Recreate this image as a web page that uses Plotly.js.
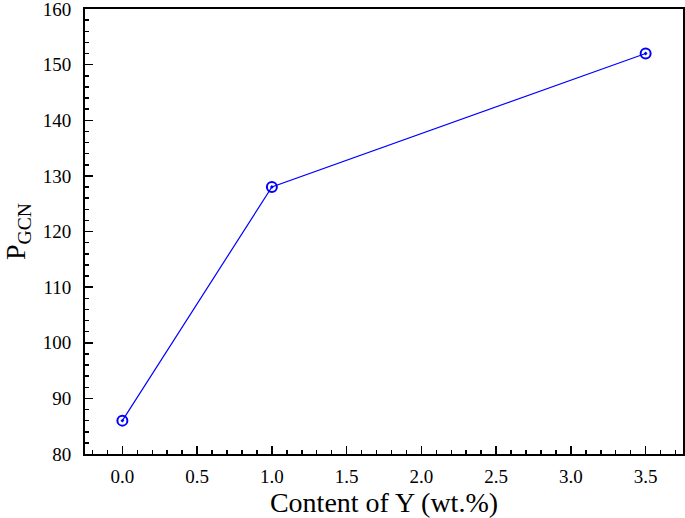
<!DOCTYPE html>
<html>
<head>
<meta charset="utf-8">
<script src="https://cdn.plot.ly/plotly-3.0.1.min.js"></script>
<style>html,body{margin:0;padding:0;background:#fff;}#chart{width:685px;height:518px;}</style>
</head>
<body>
<div id="chart"></div>
<script>
const yContent = [0.0, 1.0, 3.5];
const pGCN = [86, 128, 152];
const xTickVals = [0, 0.5, 1, 1.5, 2, 2.5, 3, 3.5];
const xTickText = ["0.0", "0.5", "1.0", "1.5", "2.0", "2.5", "3.0", "3.5"];
const xMinorVals = [-0.2, -0.1, 0.1, 0.2, 0.3, 0.4, 0.6, 0.7, 0.8, 0.9, 1.1, 1.2, 1.3, 1.4, 1.6, 1.7, 1.8, 1.9,
                    2.1, 2.2, 2.3, 2.4, 2.6, 2.7, 2.8, 2.9, 3.1, 3.2, 3.3, 3.4, 3.6, 3.7];
const yTickVals = [80, 90, 100, 110, 120, 130, 140, 150, 160];
const yTickText = ["80", "90", "100", "110", "120", "130", "140", "150", "160"];

const font = "Liberation Serif";

const trace = {
  x: yContent,
  y: pGCN,
  type: "scatter",
  mode: "lines+markers",
  line: {color: "#0000ff", width: 1.2},
  marker: {symbol: "circle-open-dot", size: 10, color: "#0000ff", line: {width: 2, color: "#0000ff"}},
  showlegend: false
};

const layout = {
  width: 685,
  height: 518,
  margin: {l: 85, r: 2, t: 9, b: 64},
  paper_bgcolor: "#fff",
  plot_bgcolor: "#fff",
  font: {family: font, color: "#000", size: 19},
  xaxis: {
    range: [-0.25, 3.75],
    tickmode: "array",
    tickvals: xTickVals,
    ticktext: xTickText,
    ticks: "inside",
    ticklen: 8,
    tickwidth: 1.5,
    tickcolor: "#000",
    minor: {tickvals: xMinorVals, ticks: "inside", ticklen: 4, tickwidth: 1.5, tickcolor: "#000"},
    showline: true,
    linecolor: "#000",
    linewidth: 2,
    mirror: true,
    showgrid: false,
    zeroline: false,
    tickfont: {family: font, size: 19, color: "#000"},
    ticklabeloverflow: "allow",
    ticklabelstandoff: 4,
    title: {text: "Content of Y (wt.%)", font: {family: font, size: 28, color: "#000"}, standoff: 5}
  },
  yaxis: {
    range: [80, 160],
    tickmode: "array",
    tickvals: yTickVals,
    ticktext: yTickText,
    ticks: "inside",
    ticklen: 8,
    tickwidth: 1.5,
    tickcolor: "#000",
    minor: {dtick: 2, ticks: "inside", ticklen: 4, tickwidth: 1.5, tickcolor: "#000"},
    showline: true,
    linecolor: "#000",
    linewidth: 2,
    mirror: true,
    showgrid: false,
    zeroline: false,
    tickfont: {family: font, size: 19, color: "#000"},
    ticklabeloverflow: "allow",
    ticklabelstandoff: 8,
    title: {text: "P<sub>GCN</sub>", font: {family: font, size: 28, color: "#000"}, standoff: 12}
  }
};

Plotly.newPlot("chart", [trace], layout, {displayModeBar: false, staticPlot: true});
</script>
</body>
</html>
